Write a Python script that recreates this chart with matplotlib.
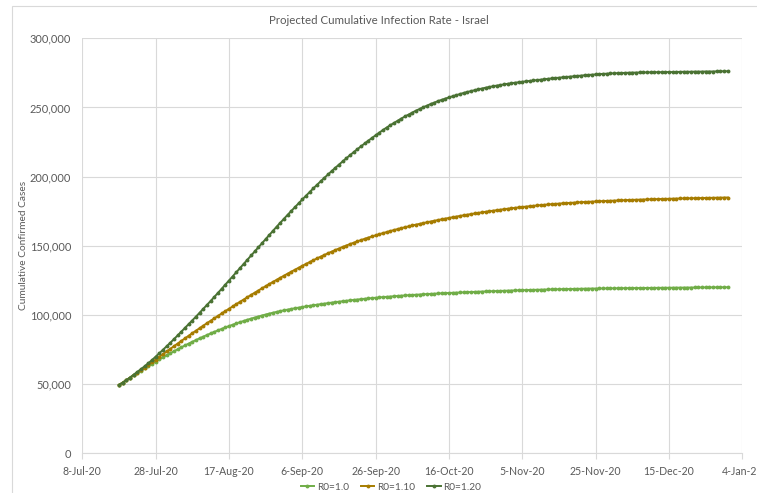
import matplotlib
matplotlib.use('agg')
import matplotlib.pyplot as plt
import matplotlib.dates as mdates
import matplotlib.ticker as mticker
import numpy as np
import pandas as pd

# daily projection, 18-Jul-20 .. 31-Dec-20
start_date = '2020-07-18'
labels = ['R0=1.0', 'R0=1.10', 'R0=1.20']

r10 = [49400, 51100, 52820, 54550, 56280, 58000, 59700, 61380, 63040, 64670,
       66270, 67840, 69380, 70890, 72370, 73820, 75240, 76630, 77990, 79320,
       80620, 81890, 83130, 84340, 85520, 86670, 87790, 88880, 89940, 90970,
       91970, 92940, 93880, 94790, 95670, 96520, 97340, 98130, 98890, 99620,
       100320, 100990, 101630, 102240, 102820, 103370, 103890, 104390, 104870, 105330,
       105770, 106200, 106620, 107030, 107430, 107820, 108200, 108570, 108930, 109280,
       109620, 109950, 110270, 110580, 110880, 111170, 111450, 111720, 111980, 112230,
       112470, 112700, 112920, 113140, 113350, 113550, 113750, 113940, 114120, 114300,
       114470, 114640, 114800, 114960, 115110, 115260, 115400, 115540, 115670, 115800,
       115920, 116040, 116160, 116280, 116390, 116500, 116610, 116720, 116820, 116920,
       117020, 117120, 117220, 117320, 117410, 117500, 117590, 117680, 117770, 117850,
       117930, 118010, 118090, 118170, 118240, 118310, 118380, 118450, 118510, 118570,
       118630, 118690, 118750, 118800, 118850, 118900, 118950, 119000, 119050, 119090,
       119130, 119160, 119190, 119220, 119250, 119280, 119310, 119340, 119370, 119400,
       119430, 119460, 119490, 119520, 119550, 119580, 119610, 119640, 119670, 119700,
       119730, 119750, 119770, 119790, 119810, 119830, 119850, 119870, 119890, 119910,
       119930, 119950, 119970, 119990, 120010, 120030, 120050]

r11 = [49400, 51100, 52840, 54620, 56430, 58270, 60130, 62010, 63910, 65850,
       67800, 69750, 71690, 73620, 75540, 77450, 79350, 81240, 83120, 84980,
       86830, 88660, 90480, 92280, 94070, 95840, 97600, 99340, 101070, 102780,
       104480, 106170, 107850, 109520, 111180, 112830, 114460, 116080, 117680, 119260,
       120830, 122380, 123910, 125420, 126920, 128400, 129860, 131300, 132730, 134140,
       135530, 136900, 138250, 139580, 140880, 142150, 143390, 144600, 145780, 146930,
       148050, 149140, 150200, 151230, 152230, 153200, 154140, 155050, 155930, 156780,
       157600, 158400, 159180, 159940, 160680, 161400, 162100, 162780, 163440, 164080,
       164700, 165300, 165880, 166450, 167010, 167560, 168100, 168630, 169150, 169660,
       170160, 170650, 171130, 171600, 172060, 172510, 172950, 173380, 173800, 174210,
       174610, 175000, 175380, 175750, 176110, 176460, 176800, 177130, 177450, 177760,
       178060, 178350, 178630, 178900, 179160, 179410, 179650, 179880, 180100, 180310,
       180510, 180700, 180880, 181050, 181210, 181370, 181520, 181670, 181810, 181950,
       182080, 182210, 182330, 182450, 182570, 182680, 182790, 182900, 183000, 183100,
       183200, 183290, 183380, 183470, 183550, 183630, 183710, 183780, 183850, 183920,
       183990, 184060, 184130, 184200, 184260, 184320, 184380, 184440, 184500, 184560,
       184620, 184670, 184720, 184770, 184820, 184870, 184920]

r12 = [49400, 51100, 52900, 54800, 56800, 58800, 60800, 62900, 65100, 67400,
       69800, 72300, 74800, 77300, 79900, 82500, 85200, 87900, 90600, 93300,
       96000, 98800, 101600, 104400, 107300, 110100, 113000, 116000, 118900, 121900,
       124800, 127800, 130800, 133900, 136900, 139900, 143000, 146000, 149000, 152000,
       155000, 157900, 160900, 163800, 166700, 169600, 172400, 175200, 178000, 180800,
       183500, 186200, 188900, 191500, 194100, 196600, 199100, 201600, 204000, 206400,
       208700, 211000, 213300, 215500, 217700, 219800, 221900, 224000, 226000, 228000,
       229900, 231800, 233700, 235500, 237200, 238800, 240400, 242000, 243500, 244900,
       246300, 247700, 248900, 250200, 251300, 252500, 253500, 254600, 255500, 256400,
       257300, 258100, 258900, 259700, 260500, 261200, 261800, 262500, 263100, 263700,
       264300, 264800, 265300, 265800, 266200, 266700, 267100, 267500, 267900, 268200,
       268600, 268900, 269200, 269500, 269800, 270100, 270400, 270700, 271000, 271300,
       271500, 271800, 272000, 272300, 272500, 272800, 273000, 273300, 273500, 273700,
       273900, 274100, 274300, 274400, 274600, 274700, 274800, 274900, 275000, 275100,
       275200, 275200, 275300, 275300, 275400, 275400, 275500, 275500, 275500, 275600,
       275600, 275600, 275700, 275700, 275800, 275800, 275800, 275900, 275900, 275900,
       276000, 276000, 276000, 276100, 276100, 276200, 276200]

colors = ['#70AD47', '#A67C00', '#4A7233']

plt.rcParams['font.family'] = ['Lato', 'DejaVu Sans']

fig = plt.figure(figsize=(7.57, 4.93), dpi=100)
ax = fig.add_axes([0.1087, 0.0805, 0.8719, 0.8418])

# chart area border
fig.patches.append(plt.Rectangle((12 / 757, -0.1), 1.2, 1.1 - 6 / 493, transform=fig.transFigure,
                                 fill=False, edgecolor='#D9D9D9', linewidth=0.8))

dates = pd.date_range(start_date, periods=len(r10), freq='D')
for vals, lab, c in zip([r10, r11, r12], labels, colors):
    ax.plot(dates, vals, color=c, linewidth=1.4, marker='o', markersize=2.8,
            markeredgewidth=0, label=lab)

x0 = pd.Timestamp('2020-07-08')
x1 = pd.Timestamp('2021-01-04')
ax.set_xlim(x0, x1)
ax.set_ylim(0, 300000)
ax.set_xticks(pd.date_range(x0, x1, freq='20D'))
ax.xaxis.set_major_formatter(mdates.DateFormatter('%-d-%b-%y'))
ax.yaxis.set_major_locator(mticker.MultipleLocator(50000))
ax.yaxis.set_major_formatter(mticker.FuncFormatter(lambda v, p: f'{int(v):,}'))

ax.grid(True, color='#D9D9D9', linewidth=0.8)
ax.set_axisbelow(True)
for s in ['top', 'right', 'left']:
    ax.spines[s].set_visible(False)
ax.spines['bottom'].set_color('#D9D9D9')
ax.tick_params(axis='y', length=0, pad=8, labelsize=7.9, labelcolor='#595959')
ax.tick_params(axis='x', length=4, color='#D9D9D9', pad=5, labelsize=7.6, labelcolor='#595959')

ax.set_ylabel('Cumulative Confirmed Cases', fontsize=7.3, color='#595959')
ax.yaxis.set_label_coords(-0.089, 0.5)
ax.yaxis.label.set_va('center')
fig.text(0.5, 1 - 20 / 493, 'Projected Cumulative Infection Rate - Israel', ha='center', va='center',
         fontsize=8.3, color='#595959')

leg = ax.legend(loc='center', bbox_to_anchor=(391 / 757, 1 - 487 / 493), bbox_transform=fig.transFigure,
                ncol=3, frameon=False, fontsize=7.3, handlelength=1.3, handletextpad=0.3,
                columnspacing=1.2, labelcolor='#595959')

fig.savefig('out.png', dpi=100)
